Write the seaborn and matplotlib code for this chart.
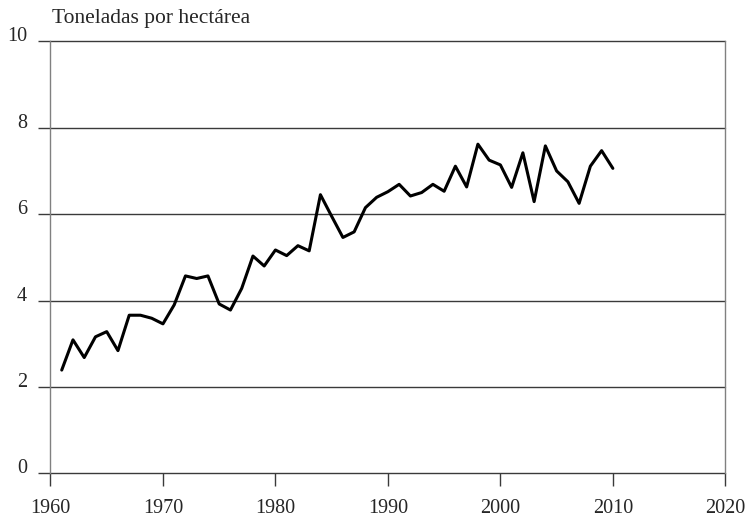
import matplotlib
matplotlib.use("Agg")
import matplotlib.pyplot as plt
import seaborn as sns
import pandas as pd

# rendimiento, toneladas por hectárea
years = list(range(1961, 2011))
yields = [2.39, 3.09, 2.68, 3.16, 3.28, 2.84, 3.66, 3.66, 3.59, 3.46,
          3.90, 4.57, 4.51, 4.57, 3.92, 3.78, 4.28, 5.03, 4.80, 5.17,
          5.04, 5.27, 5.15, 6.45, 5.95, 5.46, 5.59, 6.15, 6.39, 6.52,
          6.69, 6.42, 6.50, 6.69, 6.53, 7.11, 6.63, 7.62, 7.25, 7.14,
          6.62, 7.42, 6.29, 7.58, 7.00, 6.75, 6.25, 7.11, 7.47, 7.06]
xticks = [1960, 1970, 1980, 1990, 2000, 2010, 2020]
yticks = [0, 2, 4, 6, 8, 10]

df = pd.DataFrame({"year": years, "yield": yields})

sns.set_style("white")
plt.rcParams['font.family'] = ['Liberation Serif', 'DejaVu Serif']

fig = plt.figure(figsize=(7.49, 5.17), dpi=100)
ax = fig.add_axes([0.0674, 0.0845, 0.9010, 0.8355])

sns.lineplot(data=df, x="year", y="yield", color="black", linewidth=2.2, ax=ax)

ax.set_xlim(1960, 2020)
ax.set_ylim(0, 10)
ax.set_xticks(xticks)
ax.set_yticks(yticks)
ax.set_xlabel("")
ax.set_ylabel("")

# horizontal rules, incl. the ones at 0 and 10 that close the box
for y in yticks:
    ax.axhline(y, color="#3a3a3a", linewidth=1.0, zorder=1, clip_on=False)

ax.spines['top'].set_visible(False)
ax.spines['bottom'].set_visible(False)
ax.spines['left'].set_color("#808080")
ax.spines['right'].set_color("#808080")
ax.spines['left'].set_linewidth(1.0)
ax.spines['right'].set_linewidth(1.0)

ax.tick_params(axis='x', length=9.5, width=1.0, color="#3a3a3a", pad=9, labelsize=14.5, direction='out', bottom=True)
ax.tick_params(axis='y', length=9, width=1.0, color="#3a3a3a", pad=8, labelsize=14.5, direction='out', left=True)
for lab in ax.get_yticklabels():
    lab.set_verticalalignment('baseline')

fig.text(52 / 749, 1 - 23 / 517, "Toneladas por hectárea", fontsize=15.5, va='baseline', ha='left')

plt.savefig("out.png", dpi=100)
